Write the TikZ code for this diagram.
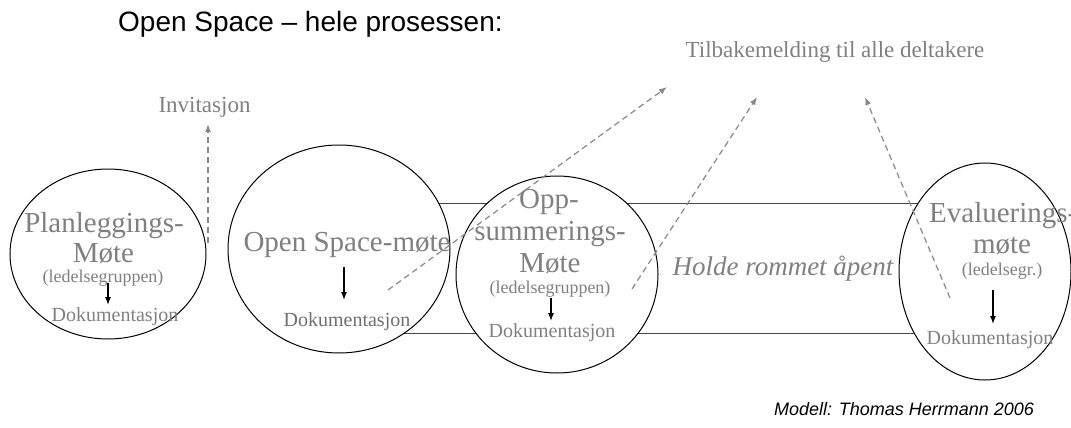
\documentclass[tikz,border=0pt]{standalone}
\usepackage{fontspec}
\setmainfont{Liberation Serif}
\setsansfont{Liberation Sans}
\usetikzlibrary{shapes.geometric,arrows.meta}
\definecolor{txtgray}{RGB}{128,128,128}
\definecolor{docgray}{RGB}{112,112,112}
\definecolor{dashgray}{RGB}{136,136,136}
\definecolor{bandline}{RGB}{70,70,70}
\tikzset{
  ell/.style={draw=black, ellipse, fill=white, line width=1pt, inner sep=0pt},
  lbl/.style={text=txtgray, inner sep=0pt, anchor=base},
  big/.style={lbl, font=\fontsize{29}{31}\selectfont},
  small/.style={lbl, font=\fontsize{18}{20}\selectfont},
  doc/.style={lbl, font=\fontsize{20}{22}\selectfont},
  docarrow/.style={-{Latex[length=8pt,width=6pt]}, line width=1.2pt, black},
  fb/.style={-{Latex[length=8pt,width=6pt]}, dashgray, line width=1.2pt, dash pattern=on 6pt off 4pt}
}
\begin{document}
\begin{tikzpicture}[x=1pt,y=-1pt]
\useasboundingbox (0,0) rectangle (1071,428);
% band behind the meetings (its ends are hidden behind the ellipses)
\node[draw=bandline, line width=1pt, inner sep=0pt, minimum width=550pt, minimum height=130pt, anchor=north west] (band) at (400,203) {};
% ellipses
\node[ell, minimum width=196pt, minimum height=170pt] (e1) at (108,254) {};
\node[ell, minimum width=222pt, minimum height=208pt] (e2) at (339,249) {};
\node[ell, minimum width=202pt, minimum height=197pt] (e3) at (557,274.5) {};
\node[ell, minimum width=172pt, minimum height=217pt] (e4) at (985,271.5) {};
% title and credits
\node[inner sep=0pt, anchor=base west, font=\sffamily\fontsize{28}{30}\selectfont] (title) at (118,32) {Open Space – hele prosessen:};
\node[inner sep=0pt, anchor=base, font=\sffamily\itshape\fontsize{18}{20}\selectfont] (credit) at (904,415) {Modell: Thomas Herrmann 2006};
\node[lbl, font=\fontsize{23}{25}\selectfont] (tilb) at (835,58) {Tilbakemelding til alle deltakere};
\node[lbl, font=\fontsize{23}{25}\selectfont] (invit) at (204.5,112) {Invitasjon};
% Planleggings
\node[big] (p1) at (104,232) {Planleggings-};
\node[big] (p2) at (103.5,262) {Møte};
\node[small] (p3) at (103,282) {(ledelsegruppen)};
\node[doc] (p4) at (115,321) {Dokumentasjon};
% Open Space
\node[big] (o1) at (347,251) {Open Space-møte};
\node[doc, text=docgray] (o2) at (347,326) {Dokumentasjon};
% Oppsummerings
\node[big] (s1) at (549,208) {Opp-};
\node[big] (s2) at (550,240) {summerings-};
\node[big] (s3) at (550,272) {Møte};
\node[small] (s4) at (550,293) {(ledelsegruppen)};
\node[doc] (s5) at (552,337) {Dokumentasjon};
% Holde rommet
\node[lbl, font=\itshape\fontsize{27}{29}\selectfont] (hold) at (783,275) {Holde rommet åpent};
% Evaluerings
\node[big, anchor=base west] (v1) at (929,222) {Evaluerings-};
\node[big] (v2) at (1002,253) {møte};
\node[small] (v3) at (1002,275) {(ledelsegr.)};
\node[doc] (v4) at (990,344) {Dokumentasjon};
% documentation arrows
\coordinate (a1s) at (108,283); \coordinate (a1e) at (108,305);
\coordinate (a2s) at (344,267); \coordinate (a2e) at (344,300);
\coordinate (a3s) at (551,298); \coordinate (a3e) at (551,321);
\coordinate (a4s) at (993,290); \coordinate (a4e) at (993,324);
\draw[docarrow] (a1s) -- (a1e);
\draw[docarrow] (a2s) -- (a2e);
\draw[docarrow] (a3s) -- (a3e);
\draw[docarrow] (a4s) -- (a4e);
% feedback arrows
\coordinate (i0) at (208,243);
\draw[fb] (i0) -- ([yshift=-7pt]invit.south -| i0);
\coordinate (f1s) at (388,290); \coordinate (f1e) at (667,87);
\coordinate (f2s) at (632,289); \coordinate (f2e) at (757,97);
\coordinate (f3s) at (950,298); \coordinate (f3e) at (865,97);
\draw[fb] (f1s) -- (f1e);
\draw[fb] (f2s) -- (f2e);
\draw[fb] (f3s) -- (f3e);
\end{tikzpicture}
\end{document}
